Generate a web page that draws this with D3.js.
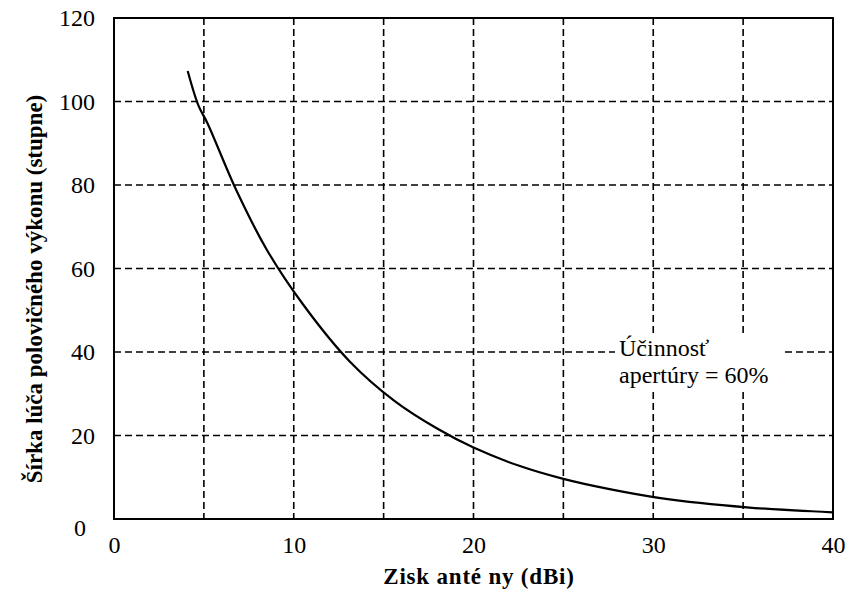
<!DOCTYPE html>
<html>
<head>
<meta charset="utf-8">
<script src="https://cdn.jsdelivr.net/npm/d3@7"></script>
<style>
  html, body { margin: 0; padding: 0; background: #fff; }
  svg { display: block; }
  text { font-family: "Liberation Serif", "Times New Roman", Times, "DejaVu Serif", "Noto Serif", serif; fill: #000; }
</style>
</head>
<body>
<svg id="chart" width="852" height="593"></svg>
<script>
// Half-power beamwidth versus antenna gain (aperture efficiency 60 %)
const gainDbi = [4.1, 4.7, 5.2, 6.8, 8.5, 10.5, 13.1, 15.6, 18, 20, 22.5, 25, 27.5, 30.4, 35.2, 40];
const beamwidthDeg = [107.3, 99, 94.8, 78.8, 64.5, 51.5, 37.8, 28.3, 21.6, 17.1, 12.8, 9.6, 7.2, 5.0, 2.8, 1.6];

const xTickValues = [0, 10, 20, 30, 40];
const yTickValues = [0, 20, 40, 60, 80, 100, 120];
const xGridValues = [5, 10, 15, 20, 25, 30, 35];
const yGridValues = [20, 40, 60, 80, 100];

const xTitle = "Zisk anté ny (dBi)";
const yTitle = "Šírka lúča polovičného výkonu (stupne)";
const noteLines = ["Účinnosť", "apertúry = 60%"];

const svg = d3.select("#chart");
const plot = { left: 114, right: 833, top: 18, bottom: 519 };

const x = d3.scaleLinear().domain([0, 40]).range([plot.left, plot.right]);
const y = d3.scaleLinear().domain([0, 120]).range([plot.bottom, plot.top]);

// dashed grid
const grid = svg.append("g").attr("stroke", "#000").attr("stroke-width", 1.6)
  .attr("stroke-dasharray", "7,4").attr("fill", "none");
grid.selectAll("line.gx").data(xGridValues).join("line").attr("class", "gx")
  .attr("x1", d => x(d)).attr("x2", d => x(d))
  .attr("y1", plot.top).attr("y2", plot.bottom);
grid.selectAll("line.gy").data(yGridValues).join("line").attr("class", "gy")
  .attr("x1", plot.left).attr("x2", plot.right)
  .attr("y1", d => y(d)).attr("y2", d => y(d));

// annotation box masks the grid behind the text
const note = svg.append("g");
note.append("rect").attr("x", 615).attr("y", 335).attr("width", 166).attr("height", 57).attr("fill", "#fff");
note.selectAll("text").data(noteLines).join("text")
  .attr("x", 619).attr("y", (d, i) => 356 + i * 27)
  .attr("font-size", 24)
  .text(d => d);

// curve
const line = d3.line()
  .x((d, i) => x(gainDbi[i]))
  .y(d => y(d))
  .curve(d3.curveCatmullRom.alpha(0.5));
svg.append("path").datum(beamwidthDeg)
  .attr("d", line).attr("fill", "none").attr("stroke", "#000").attr("stroke-width", 2.2);

// plot frame
svg.append("rect")
  .attr("x", plot.left).attr("y", plot.top)
  .attr("width", plot.right - plot.left).attr("height", plot.bottom - plot.top)
  .attr("fill", "none").attr("stroke", "#000").attr("stroke-width", 2);

// axes (labels only; the frame serves as the axis line)
const xAxis = d3.axisBottom(x).tickValues(xTickValues).tickSize(0).tickPadding(17).tickFormat(d3.format("d"));
const gx = svg.append("g").attr("transform", `translate(0,${plot.bottom})`).call(xAxis);
gx.attr("font-family", null).attr("font-size", null);
gx.select(".domain").remove();
gx.selectAll("text").attr("font-size", 24).attr("fill", "#000");

const yAxis = d3.axisLeft(y).tickValues(yTickValues).tickSize(0).tickPadding(19).tickFormat(d3.format("d"));
const gy = svg.append("g").attr("transform", `translate(${plot.left},0)`).call(yAxis);
gy.attr("font-family", null).attr("font-size", null);
gy.select(".domain").remove();
gy.selectAll("text").attr("font-size", 24).attr("fill", "#000")
  .attr("dy", d => d === 0 ? "0.7em" : "0.32em")
  .attr("dx", d => d === 0 ? -9 : 0);

// axis titles
svg.append("text")
  .attr("x", 479).attr("y", 584)
  .attr("text-anchor", "middle").attr("font-size", 23).attr("font-weight", "bold")
  .attr("letter-spacing", 0.8)
  .text(xTitle);

svg.append("text")
  .attr("transform", "translate(42,289) rotate(-90)")
  .attr("text-anchor", "middle").attr("font-size", 23).attr("font-weight", "bold")
  .text(yTitle);
</script>
</body>
</html>
